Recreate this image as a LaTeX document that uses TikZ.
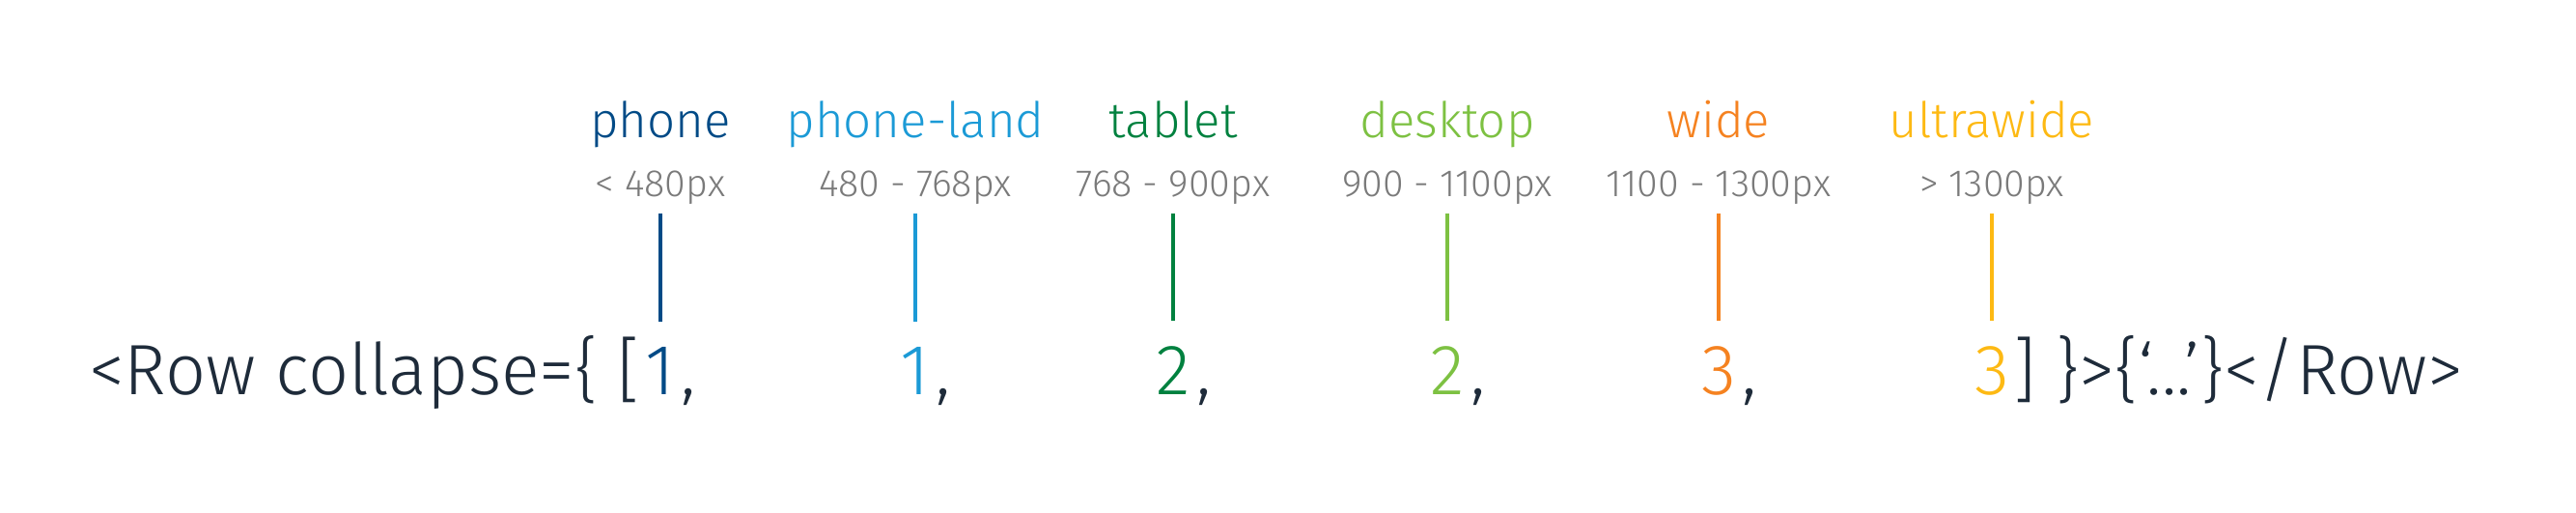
\documentclass[tikz,border=0pt]{standalone}
\usepackage{fontspec}
\setmainfont{Fira Sans}[UprightFont=* Light]
\usetikzlibrary{positioning}

\definecolor{ink}{HTML}{1E2B3A}
\definecolor{rangegrey}{HTML}{7A7A7A}
\definecolor{cphone}{HTML}{004A86}
\definecolor{cphoneland}{HTML}{1B9AD6}
\definecolor{ctablet}{HTML}{00813F}
\definecolor{cdesktop}{HTML}{7DC142}
\definecolor{cwide}{HTML}{F58220}
\definecolor{cultra}{HTML}{FDB913}

\begin{document}
\begin{tikzpicture}[
  bp/.style={font=\fontsize{14.5}{17}\selectfont, anchor=base, inner sep=0pt},
  rng/.style={font=\fontsize{11.2}{13}\selectfont, text=rangegrey, anchor=base, inner sep=0pt},
  code/.style={font=\fontsize{21}{25}\selectfont, text=ink, inner sep=0pt},
  num/.style={code, anchor=base},
  tick/.style={line width=1pt, shorten <=0.09cm, shorten >=0.25cm}]
  \useasboundingbox (0,0) rectangle (26.68,5.30);
  % breakpoint names
  \node[bp, text=cphone] (phone) at (6.84,3.88) {phone};
  \node[bp, text=cphoneland] (phoneland) at (9.48,3.88) {phone-land};
  \node[bp, text=ctablet] (tablet) at (12.15,3.88) {tablet};
  \node[bp, text=cdesktop] (desktop) at (14.99,3.88) {desktop};
  \node[bp, text=cwide] (wide) at (17.80,3.88) {wide};
  \node[bp, text=cultra] (ultrawide) at (20.63,3.88) {ultrawide};
  % widths
  \node[rng] (rphone) at (6.84,3.27) {< 480px};
  \node[rng] (rphoneland) at (9.48,3.27) {480 - 768px};
  \node[rng] (rtablet) at (12.15,3.27) {768 - 900px};
  \node[rng] (rdesktop) at (14.99,3.27) {900 - 1100px};
  \node[rng] (rwide) at (17.80,3.27) {1100 - 1300px};
  \node[rng] (rultrawide) at (20.63,3.27) {> 1300px};
  % collapse values
  \node[num, text=cphone] (dphone) at (6.84,1.22) {1};
  \node[num, text=cphoneland] (dphoneland) at (9.48,1.22) {1};
  \node[num, text=ctablet] (dtablet) at (12.15,1.22) {2};
  \node[num, text=cdesktop] (ddesktop) at (14.99,1.22) {2};
  \node[num, text=cwide] (dwide) at (17.80,1.22) {3};
  \node[num, text=cultra] (dultrawide) at (20.63,1.22) {3};
  \node[code, anchor=base east, xshift=-0.04cm] (open) at (dphone.base west) {<Row collapse=\{ [};
  \node[code, anchor=base west, xshift=0.05cm] (k1) at (dphone.base east) {,};
  \node[code, anchor=base west, xshift=0.05cm] (k2) at (dphoneland.base east) {,};
  \node[code, anchor=base west, xshift=0.05cm] (k3) at (dtablet.base east) {,};
  \node[code, anchor=base west, xshift=0.05cm] (k4) at (ddesktop.base east) {,};
  \node[code, anchor=base west, xshift=0.05cm] (k5) at (dwide.base east) {,};
  \node[code, anchor=base west, xshift=0.03cm] (close) at (dultrawide.base east) {] \}>\{‘...’\}</Row>};
  % ticks
  \draw[tick, cphone] (rphone.south) -- (dphone.north);
  \draw[tick, cphoneland] (rphoneland.south) -- (dphoneland.north);
  \draw[tick, ctablet] (rtablet.south) -- (dtablet.north);
  \draw[tick, cdesktop] (rdesktop.south) -- (ddesktop.north);
  \draw[tick, cwide] (rwide.south) -- (dwide.north);
  \draw[tick, cultra] (rultrawide.south) -- (dultrawide.north);
\end{tikzpicture}
\end{document}
